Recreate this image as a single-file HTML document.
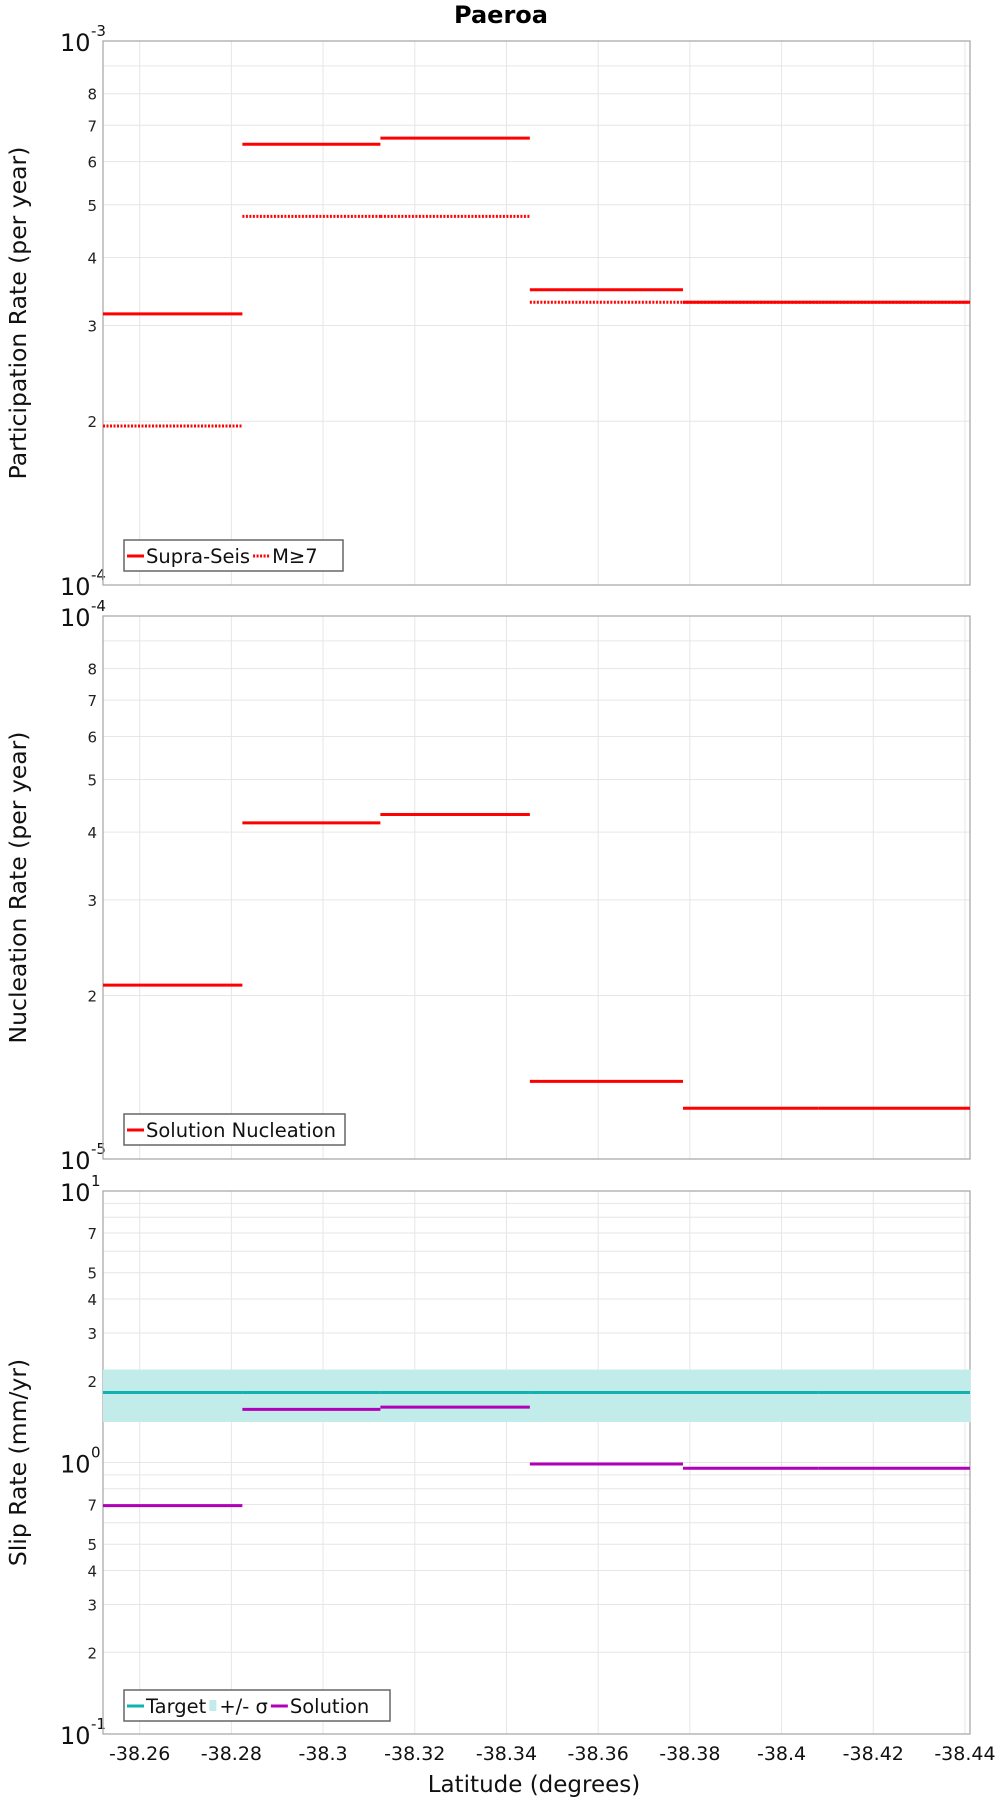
<!DOCTYPE html>
<html><head><meta charset="utf-8"><style>
body{margin:0;background:#fff;}
svg{display:block;font-family:"DejaVu Sans","Liberation Sans",sans-serif;}
</style></head><body>
<svg id="chart" width="1000" height="1800" viewBox="0 0 1000 1800" xmlns="http://www.w3.org/2000/svg">
<text x="501" y="23" text-anchor="middle" font-size="24" font-weight="bold">Paeroa</text>
<g id="g"></g>
</svg>
<script>
// Segment latitude boundaries
const segEdges = [-38.2520, -38.2824, -38.3125, -38.3451, -38.3785, -38.4081, -38.4411];
// Participation rates
const supraSeis = [3.15e-4, 6.46e-4, 6.63e-4, 3.49e-4, 3.31e-4, 3.31e-4];
const m7 = [1.96e-4, 4.76e-4, 4.76e-4, 3.31e-4, 3.31e-4, 3.31e-4];
// Nucleation rates
const nucleation = [2.09e-5, 4.16e-5, 4.31e-5, 1.39e-5, 1.24e-5, 1.24e-5];
// Slip rates
const targetSlip = [1.81, 1.81, 1.81, 1.81, 1.81, 1.81];
const sigmaHigh = [2.20, 2.20, 2.20, 2.20, 2.20, 2.20];
const sigmaLow = [1.41, 1.41, 1.41, 1.41, 1.41, 1.41];
const solutionSlip = [0.694, 1.57, 1.60, 0.987, 0.952, 0.952];
const xTicks = [-38.26, -38.28, -38.3, -38.32, -38.34, -38.36, -38.38, -38.4, -38.42, -38.44];
const xTickLabels = ["-38.26","-38.28","-38.3","-38.32","-38.34","-38.36","-38.38","-38.4","-38.42","-38.44"];

const NS = "http://www.w3.org/2000/svg";
const G = document.getElementById('g');
const L = 103, R = 970;
const X0 = -38.2520, X1 = -38.4411;
function xs(v){ return L + (v - X0) / (X1 - X0) * (R - L); }
function mk(tag, attrs, parent){
  const e = document.createElementNS(NS, tag);
  for (const k in attrs) e.setAttribute(k, attrs[k]);
  (parent || G).appendChild(e);
  return e;
}
const panels = [
  {top:41, bot:585, lo:-4, hi:-3, title:"Participation Rate (per year)", minorLabels:[2,3,4,5,6,7,8]},
  {top:616, bot:1159, lo:-5, hi:-4, title:"Nucleation Rate (per year)", minorLabels:[2,3,4,5,6,7,8]},
  {top:1191, bot:1734, lo:-1, hi:1, title:"Slip Rate (mm/yr)", minorLabels:[2,3,4,5,7]}
];
function ysF(p){ return v => p.bot - (Math.log10(v) - p.lo) / (p.hi - p.lo) * (p.bot - p.top); }

panels.forEach((p, pi) => {
  const ys = ysF(p);
  const grid = mk('g', {});
  
  
  xTicks.forEach(t => {
    const l = mk('line', {x1:xs(t), x2:xs(t), y1:p.top, y2:p.bot, stroke:'#e6e6e6', 'stroke-width':1}, grid);
    
    
  });
  for (let d = p.lo; d < p.hi; d++) {
    for (let m = 2; m <= 9; m++) {
      const y = ys(m * Math.pow(10, d));
      const l = mk('line', {x1:L, x2:R, y1:y, y2:y, stroke:'#e6e6e6', 'stroke-width':1}, grid);
      
      
      if (p.minorLabels.indexOf(m) >= 0) {
        const t = mk('text', {x:97, y:y+6, 'text-anchor':'end', 'font-size':15, fill:'#222'});
        t.textContent = m;
        
        
      }
    }
    if (d > p.lo) {
      const y = ys(Math.pow(10, d));
      const l = mk('line', {x1:L, x2:R, y1:y, y2:y, stroke:'#e6e6e6', 'stroke-width':1}, grid);
      
      
    }
  }
  for (let d = p.lo; d <= p.hi; d++) {
    const y = ys(Math.pow(10, d));
    const t = mk('text', {x:60, y:y+10, 'font-size':24, fill:'#111'});
    t.textContent = '10';
    
    
    const s = mk('text', {x:91, y:y-5, 'font-size':15, fill:'#111'});
    s.textContent = String(d);
    
    
  }
  const fr = mk('rect', {x:L, y:p.top, width:R-L, height:p.bot-p.top, fill:'none', stroke:'#aaa', 'stroke-width':1.3});
  
  
  const yt = mk('text', {x:0, y:0, 'font-size':23.5, 'text-anchor':'middle', fill:'#111', transform:'translate(26,'+((p.top+p.bot)/2)+') rotate(-90)'});
  yt.textContent = p.title;
  
  
});

function steps(arr, p, color, dash, name){
  const ys = ysF(p);
  arr.forEach((v, i) => {
    const a = {x1:xs(segEdges[i]), x2:xs(segEdges[i+1]), y1:ys(v), y2:ys(v), stroke:color, 'stroke-width':3};
    if (dash) a['stroke-dasharray'] = dash;
    const l = mk('line', a);
    
    
  });
}
(function(){
  const p = panels[2], ys = ysF(p);
  sigmaHigh.forEach((v, i) => {
    const r = mk('rect', {x:xs(segEdges[i]), width:xs(segEdges[i+1])-xs(segEdges[i])+0.5, y:ys(v), height:ys(sigmaLow[i])-ys(v), fill:'#c2ecea'});
    
    
  });
})();
steps(m7, panels[0], '#ff0000', '2,1.5', 'm7-rate');
steps(supraSeis, panels[0], '#ff0000', null, 'supra-seis-rate');
steps(nucleation, panels[1], '#ff0000', null, 'nucleation-rate');
steps(targetSlip, panels[2], '#13b0b0', null, 'target-slip');
steps(solutionSlip, panels[2], '#b000b8', null, 'solution-slip');

xTicks.forEach((t, i) => {
  const e = mk('text', {x:xs(t), y:1760, 'text-anchor':'middle', 'font-size':19, fill:'#111'});
  e.textContent = xTickLabels[i];
  
  
});
const xt = mk('text', {x:534, y:1792, 'text-anchor':'middle', 'font-size':23, fill:'#111'});
xt.textContent = 'Latitude (degrees)';



function legend(x, y, w, items, name){
  const g = mk('g', {});
  
  
  mk('rect', {x:x, y:y, width:w, height:31, fill:'#fff', stroke:'#666', 'stroke-width':1.5}, g);
  let cx = x + 3;
  items.forEach(it => {
    if (it.type === 'box') {
      mk('rect', {x:cx, y:y+10, width:7, height:11, fill:it.color}, g);
      cx += 10;
    } else {
      const a = {x1:cx, x2:cx+17, y1:y+16, y2:y+16, stroke:it.color, 'stroke-width':3};
      if (it.dash) a['stroke-dasharray'] = it.dash;
      mk('line', a, g);
      cx += 19;
    }
    const t = mk('text', {x:cx, y:y+23, 'font-size':19.5, fill:'#111'}, g);
    t.textContent = it.label;
    
    
    cx += t.getComputedTextLength() + 3;
  });
}
legend(124, 540, 219, [{color:'#ff0000', label:'Supra-Seis'}, {color:'#ff0000', dash:'2,1.5', label:'M≥7'}], 'legend-participation');
legend(124, 1114, 221, [{color:'#ff0000', label:'Solution Nucleation'}], 'legend-nucleation');
legend(124, 1690, 266, [{color:'#13b0b0', label:'Target'}, {type:'box', color:'#c2ecea', label:'+/- σ'}, {color:'#b000b8', label:'Solution'}], 'legend-slip');
</script>
</body></html>
